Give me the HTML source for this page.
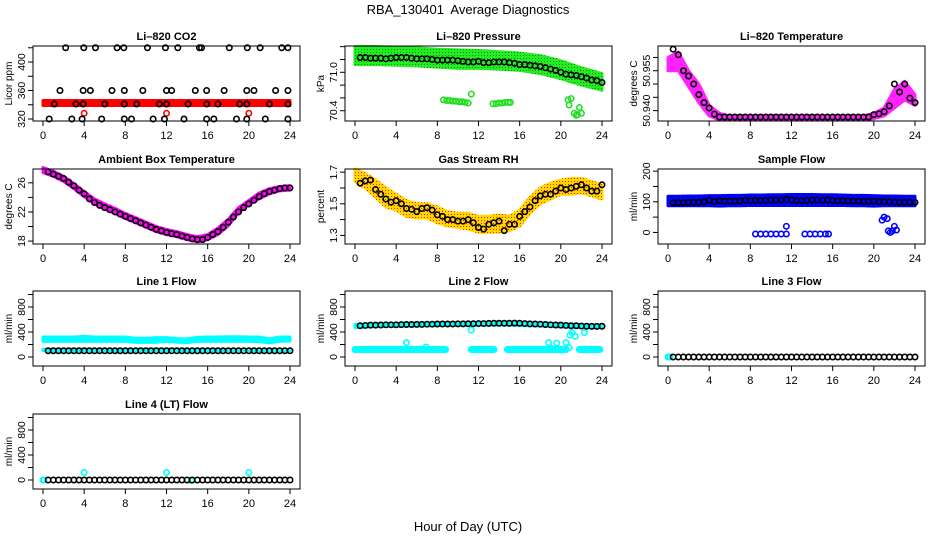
<!DOCTYPE html>
<html><head><meta charset="utf-8">
<style>
html,body{margin:0;padding:0;background:#fff;}
svg{display:block;font-family:"Liberation Sans",Arial,sans-serif;}
</style></head>
<body>
<svg id="chart" width="936" height="540" viewBox="0 0 936 540" xmlns="http://www.w3.org/2000/svg">
<defs>
<pattern id="rhPat" width="3" height="3" patternUnits="userSpaceOnUse"><rect width="3" height="3" fill="#ffd800"/><rect x="1" y="1" width="1" height="1" fill="#ff2000"/></pattern>
<pattern id="grPat" width="3" height="3" patternUnits="userSpaceOnUse"><rect width="3" height="3" fill="#22ee22"/><rect x="1" y="1" width="1" height="1" fill="#118811"/></pattern>
</defs>
<text x="468" y="14" font-size="13" text-anchor="middle" xml:space="preserve">RBA_130401  Average Diagnostics</text>
<text x="468" y="531" font-size="13" text-anchor="middle">Hour of Day (UTC)</text>
</svg>
<script>
// ---------- data ----------
const hours = [0.5,1,1.5,2,2.5,3,3.5,4,4.5,5,5.5,6,6.5,7,7.5,8,8.5,9,9.5,10,10.5,11,11.5,12,12.5,13,13.5,14,14.5,15,15.5,16,16.5,17,17.5,18,18.5,19,19.5,20,20.5,21,21.5,22,22.5,23,23.5,24];
const bandHours = [0,1,2,3,4,5,6,7,8,9,10,11,12,13,14,15,16,17,18,19,20,21,22,23,24];
const xTicks = [0,4,8,12,16,20,24];

// CO2
const co2TopH = [2.2,3.96,5.1,7.2,7.85,10.15,11.9,13.1,15.2,15.4,18.1,19.85,21.1,23.2,23.8];
const co2TopV = [420,420,420,420,420,420,420,420,420,420,420,420,420,420,420];
const co2MidH = [1.65,3.9,4.6,6.7,7.9,9.7,12,12.5,14.8,15.9,17.6,19.8,20.5,22.6,23.8];
const co2MidV = [360,360,360,360,360,360,360,360,360,360,360,360,360,360,360];
const co2LowH = [1.1,3.2,3.9,6.0,7.9,9.1,11.3,12,14.1,15.9,17,19.1,19.8,22,23.8];
const co2LowV = [341,341,341,341,341,341,341,341,341,341,341,341,341,341,341];
const co2BotH = [0.6,2.8,3.8,5.7,7.9,8.6,10.7,11.8,13.7,15.9,16.6,18.8,19.8,21.6,23.8];
const co2BotV = [320,320,320,320,320,320,320,320,320,320,320,320,320,320,320];
const co2BandH = [0,24];
const co2BandLo = [339,339];
const co2BandHi = [346,346];
const co2RedH = [4,12,20];
const co2RedV = [328,328,328];

// Pressure
const pressV = [71.23,71.23,71.22,71.22,71.22,71.21,71.22,71.23,71.23,71.23,71.22,71.21,71.21,71.21,71.20,71.19,71.19,71.19,71.19,71.18,71.17,71.16,71.16,71.17,71.15,71.15,71.16,71.16,71.16,71.15,71.14,71.12,71.12,71.11,71.10,71.09,71.07,71.05,71.03,71.00,70.97,70.96,70.95,70.93,70.91,70.88,70.87,70.84];
const pressBandH = [0,2,4,6,8,10,12,14,16,18,20,22,24];
const pressHi = [71.40,71.40,71.39,71.38,71.36,71.35,71.34,71.32,71.30,71.26,71.18,71.07,70.98];
const pressLo = [71.12,71.12,71.11,71.10,71.08,71.06,71.06,71.05,71.03,70.98,70.90,70.80,70.72];
const pressGreenH = [8.6,8.9,9.2,9.5,9.8,10.1,10.4,10.7,11.0,13.4,13.7,14.0,14.3,14.6,14.9,15.1,11.3,20.7,20.8,21.0,21.3,21.5,21.6,21.8,22.0];
const pressGreenV = [70.57,70.56,70.56,70.55,70.55,70.54,70.54,70.53,70.52,70.51,70.51,70.52,70.52,70.53,70.53,70.53,70.66,70.57,70.49,70.59,70.36,70.33,70.34,70.45,70.36];

// Li-820 temperature
const ltempV = [50.9631,50.961,50.955,50.953,50.950,50.946,50.943,50.941,50.9387,50.9376,50.9376,50.9376,50.9376,50.9376,50.9376,50.9376,50.9376,50.9376,50.9376,50.9376,50.9376,50.9376,50.9376,50.9376,50.9376,50.9376,50.9376,50.9376,50.9376,50.9376,50.9376,50.9376,50.9376,50.9376,50.9376,50.9376,50.9376,50.9376,50.9376,50.9385,50.9388,50.9396,50.9418,50.950,50.947,50.950,50.9447,50.943];
const ltempLo = [50.955,50.955,50.949,50.943,50.938,50.9365,50.9365,50.9365,50.9365,50.9365,50.9365,50.9365,50.9365,50.9365,50.9365,50.9365,50.9365,50.9365,50.9365,50.9365,50.937,50.938,50.941,50.944,50.942];
const ltempHi = [50.960,50.962,50.955,50.950,50.942,50.939,50.938,50.938,50.938,50.938,50.938,50.938,50.938,50.938,50.938,50.938,50.938,50.938,50.938,50.938,50.939,50.941,50.948,50.951,50.946];

// Ambient
const ambV = [27.5,27.2,26.9,26.6,26.1,25.6,25.0,24.5,23.8,23.3,22.9,22.6,22.3,22.0,21.7,21.4,21.1,20.8,20.5,20.2,19.9,19.6,19.4,19.2,19.0,18.9,18.7,18.5,18.3,18.2,18.2,18.5,18.9,19.3,19.9,20.6,21.3,22.0,22.6,23.1,23.6,24.1,24.5,24.8,25.0,25.2,25.3,25.3];
const ambLo = [27.4,26.9,26.2,25.2,24.1,23.1,22.4,21.8,21.1,20.5,19.9,19.3,18.9,18.6,18.2,17.9,18.2,18.9,20.1,21.9,23.0,23.8,24.5,24.9,25.0];
const ambHi = [28.1,27.6,26.9,25.9,24.8,23.8,23.1,22.5,21.8,21.2,20.6,20.0,19.6,19.3,18.9,18.6,18.9,19.8,21.0,22.6,23.6,24.6,25.2,25.5,25.6];

// Gas stream RH
const rhV = [1.63,1.645,1.65,1.59,1.56,1.53,1.51,1.52,1.50,1.47,1.465,1.45,1.47,1.475,1.46,1.43,1.42,1.40,1.40,1.39,1.39,1.40,1.38,1.35,1.34,1.37,1.38,1.39,1.33,1.37,1.37,1.42,1.45,1.48,1.52,1.55,1.56,1.56,1.58,1.60,1.59,1.60,1.61,1.62,1.60,1.58,1.58,1.62];
const rhLo = [1.64,1.60,1.54,1.48,1.46,1.42,1.41,1.41,1.38,1.36,1.35,1.34,1.32,1.32,1.32,1.33,1.36,1.44,1.50,1.53,1.56,1.56,1.57,1.55,1.53];
const rhHi = [1.72,1.69,1.65,1.60,1.56,1.52,1.50,1.50,1.48,1.45,1.44,1.44,1.42,1.42,1.43,1.42,1.46,1.54,1.60,1.63,1.65,1.66,1.66,1.64,1.62];

// Sample flow
const sampV = [97,97,97,98,98,99,100,105,100,103,102,102,102,103,105,104,104,104,105,105,106,106,108,106,104,104,105,106,106,105,106,104,103,103,103,102,102,101,101,102,101,100,100,99,98,98,99,98];
const sampLo = [87,87,87,87,87,86,87,87,88,88,88,88,88,88,88,88,88,88,87,87,86,87,87,87,87];
const sampHi = [118,118,119,119,120,120,121,121,122,122,123,123,124,124,124,123,123,122,121,121,120,119,119,118,118];
const sampBlueH = [8.5,9,9.5,10,10.5,11,11.5,13.3,13.8,14.3,14.8,15.3,15.6,11.5,20.8,21.0,21.3,21.4,21.6,21.8,22.0,22.2];
const sampBlueV = [-5,-5,-5,-5,-5,-5,-5,-5,-5,-5,-5,-5,-5,20,40,50,45,5,0,5,20,8];

// Line 1
const line1V = [100,100,100,100,100,100,100,100,100,100,100,100,100,100,100,100,100,100,100,100,100,100,100,100,100,100,100,100,100,100,100,100,100,100,100,100,100,100,100,100,100,100,100,100,100,100,100,100];
const line1Lo = [250,250,250,250,250,250,250,250,250,235,235,235,250,235,230,250,250,250,250,250,250,245,225,250,255];
const line1Hi = [320,320,320,320,330,320,320,320,320,300,300,310,310,295,290,315,320,320,325,325,320,320,290,320,320];
const line1LowLo = [100,100,100,100,100,100,100,100,100,100,100,100,100,100,100,100,100,100,100,100,100,100,100,100,100];
const line1LowHi = [125,125,125,125,125,125,125,125,125,125,125,125,125,125,125,125,125,125,100,100,100,100,100,100,100];

// Line 2
const line2V = [500,505,510,510,512,515,515,515,518,520,520,522,522,525,525,528,528,528,528,530,530,532,532,535,535,538,540,540,540,540,542,540,535,530,528,525,520,515,512,510,505,500,500,495,492,490,490,492];
const line2Lo = [470,480,485,490,490,495,495,500,500,505,505,505,510,510,510,510,505,500,495,490,480,475,470,470,470];
const line2Hi = [520,525,530,530,535,540,540,545,545,545,550,550,555,555,560,560,555,550,545,540,530,525,520,515,515];
const line2SegStart = [0,11.3,14.8,21.8];
const line2SegEnd = [8.8,13.5,20.5,23.8];
const line2SegV = [120,120,120,120];
const line2OutH = [5,6.9,11.3,18.8,19.6,20.5,20.8,20.9,21.1,21.4,22.3,19,20.1];
const line2OutV = [230,160,430,230,220,230,150,350,390,330,390,150,110];

// Line 3
const line3V = [0,0,0,0,0,0,0,0,0,0,0,0,0,0,0,0,0,0,0,0,0,0,0,0,0,0,0,0,0,0,0,0,0,0,0,0,0,0,0,0,0,0,0,0,0,0,0,0];
const line3CyanH = [0,0.1,0.2];
const line3CyanV = [0,0,0];

// Line 4
const line4V = [0,0,0,0,0,0,0,0,0,0,0,0,0,0,0,0,0,0,0,0,0,0,0,0,0,0,0,0,0,0,0,0,0,0,0,0,0,0,0,0,0,0,0,0,0,0,0,0];
const line4CyanH = [0,0.1,4,12,20,14.4];
const line4CyanV = [0,0,120,120,120,-10];

// ---------- drawing ----------
const NS = "http://www.w3.org/2000/svg";
const svg = document.getElementById("chart");
const COLX = [43,355,668], ROWY = [46,169,291,414], PH = 75, PXH = 247/24;

function el(tag, attrs, parent){
  const e = document.createElementNS(NS, tag);
  for (const k in attrs) e.setAttribute(k, attrs[k]);
  parent.appendChild(e);
  return e;
}

function panel(name, col, row, title, ylab, dMin, dMax, ticks, labels){
  const x0 = COLX[col], top = ROWY[row], bot = top + PH;
  const g = el("g", {}, svg);
  
  
  const sx = h => x0 + h * PXH;
  const sy = v => bot - (v - dMin) / (dMax - dMin) * PH;
  const plot = el("g", {}, g);
  
  
  const t = el("text", {x: x0 + 123.5, y: top - 6, "font-size": 11, "font-weight": "bold", "text-anchor": "middle"}, g);
  t.textContent = title;
  
  
  const yl = el("text", {x: 0, y: 0, "font-size": 10, "text-anchor": "middle", transform: `translate(${x0-31},${top+PH/2}) rotate(-90)`}, g);
  yl.textContent = ylab;
  
  
  // y axis
  const yax = el("g", {stroke: "#000", "stroke-width": 1}, g);
  
  
  const bx = x0 - 10;
  el("line", {x1: bx, x2: bx, y1: sy(ticks[0]), y2: sy(ticks[ticks.length-1])}, yax);
  ticks.forEach(v => {
    const tk = el("line", {x1: bx - 5, x2: bx, y1: sy(v), y2: sy(v)}, yax);
    
    
  });
  labels.forEach(v => {
    const lt = el("text", {x: 0, y: 0, "font-size": 10.5, "text-anchor": "middle", stroke: "none", transform: `translate(${bx-8},${sy(v)}) rotate(-90)`}, yax);
    lt.textContent = String(v);
    
    
  });
  // x axis
  const xax = el("g", {stroke: "#000", "stroke-width": 1}, g);
  
  
  el("line", {x1: sx(xTicks[0]), x2: sx(xTicks[xTicks.length-1]), y1: bot, y2: bot}, xax);
  xTicks.forEach(h => {
    el("line", {x1: sx(h), x2: sx(h), y1: bot, y2: bot + 5}, xax);
    const lt = el("text", {x: sx(h), y: bot + 18, "font-size": 11, "text-anchor": "middle", stroke: "none"}, xax);
    lt.textContent = String(h);
    
    
  });
  return {g: plot, sx, sy, frame: () => {
    const r = el("rect", {x: bx, y: top, width: 267, height: PH, fill: "none", stroke: "#000", "stroke-width": 1}, g);
    
    
  }};
}

function points(P, xs, ys, color, name, r){
  const grp = el("g", {fill: "none", stroke: color, "stroke-width": 1.6}, P.g);
  
  
  xs.forEach((h, i) => {
    const c = el("circle", {cx: P.sx(h), cy: P.sy(ys[i]), r: r || 2.7}, grp);
    
    
  });
}

function band(P, xs, lo, hi, fill, name){
  let d = xs.map((h,i) => `${P.sx(h)},${P.sy(hi[i])}`);
  for (let i = xs.length - 1; i >= 0; i--) d.push(`${P.sx(xs[i])},${P.sy(lo[i])}`);
  const p = el("polygon", {points: d.join(" "), fill: fill, stroke: fill, "stroke-width": 3, "stroke-linejoin": "round"}, P.g);
  
  
}

// CO2
let P = panel("co2-panel", 0, 0, "Li\u2013820 CO2", "Licor ppm", 317.2, 422.5, [320,340,360,380,400,420], [320,360,400]);
band(P, co2BandH, co2BandLo, co2BandHi, "#ff0000", "co2-red-band");
points(P, co2RedH, co2RedV, "#ff0000", "co2-red-outliers");
points(P, co2TopH, co2TopV, "#000", "co2-top-points");
points(P, co2MidH, co2MidV, "#000", "co2-mid-points");
points(P, co2LowH, co2LowV, "#000", "co2-low-points");
points(P, co2BotH, co2BotV, "#000", "co2-bottom-points");
P.frame();

// Pressure
P = panel("pressure-panel", 1, 0, "Li\u2013820 Pressure", "kPa", 70.24, 71.41, [70.4,70.6,70.8,71.0,71.2,71.4], ["70.4","71.0"]);
band(P, pressBandH, pressLo, pressHi, "url(#grPat)", "pressure-green-band");
points(P, pressGreenH, pressGreenV, "#22dd22", "pressure-green-points");
points(P, hours, pressV, "#000", "pressure-mean-points");
P.frame();

// Li temp
P = panel("li-temp-panel", 2, 0, "Li\u2013820 Temperature", "degrees C", 50.9361, 50.9643, [50.940,50.945,50.950,50.955,50.960], ["50.940","50.955"]);
band(P, bandHours, ltempLo, ltempHi, "#ff22ff", "li-temp-magenta-band");
points(P, hours, ltempV, "#000", "li-temp-mean-points");
P.frame();

// Ambient
P = panel("ambient-panel", 0, 1, "Ambient Box Temperature", "degrees C", 17.6, 27.9, [18,20,22,24,26], [18,22,26]);
band(P, bandHours, ambLo, ambHi, "#ff00ff", "ambient-magenta-band");
points(P, hours, ambV, "#000", "ambient-mean-points");
P.frame();

// RH
P = panel("rh-panel", 1, 1, "Gas Stream RH", "percent", 1.2456, 1.72, [1.3,1.4,1.5,1.6,1.7], ["1.3","1.5","1.7"]);
band(P, bandHours, rhLo, rhHi, "url(#rhPat)", "rh-yellow-band");
points(P, hours, rhV, "#000", "rh-mean-points");
P.frame();

// Sample flow
P = panel("sample-flow-panel", 2, 1, "Sample Flow", "ml/min", -37.7, 207, [0,50,100,150,200], [0,100,200]);
band(P, bandHours, sampLo, sampHi, "#0000ff", "sample-flow-blue-band");
points(P, sampBlueH, sampBlueV, "#0000ff", "sample-flow-blue-points");
points(P, hours, sampV, "#000", "sample-flow-mean-points");
P.frame();

const flowTicks = [0,200,400,600,800,1000], flowLabels = [0,400,800];
// Line 1
P = panel("line1-panel", 0, 2, "Line 1 Flow", "ml/min", -144, 1056, flowTicks, flowLabels);
band(P, bandHours, line1Lo, line1Hi, "#00ffff", "line1-cyan-band");
band(P, bandHours, line1LowLo, line1LowHi, "#00ffff", "line1-cyan-low-band");
points(P, hours, line1V, "#000", "line1-mean-points");
P.frame();

// Line 2
P = panel("line2-panel", 1, 2, "Line 2 Flow", "ml/min", -144, 1056, flowTicks, flowLabels);
band(P, bandHours, line2Lo, line2Hi, "#00ffff", "line2-cyan-band");
line2SegStart.forEach((s, i) => {
  const ln = el("line", {x1: P.sx(s), x2: P.sx(line2SegEnd[i]), y1: P.sy(line2SegV[i]), y2: P.sy(line2SegV[i]), stroke: "#00ffff", "stroke-width": 7, "stroke-linecap": "round"}, P.g);
  
  
});
points(P, line2OutH, line2OutV, "#00ffff", "line2-cyan-outliers");
points(P, hours, line2V, "#000", "line2-mean-points");
P.frame();

// Line 3
P = panel("line3-panel", 2, 2, "Line 3 Flow", "ml/min", -144, 1056, flowTicks, flowLabels);
points(P, line3CyanH, line3CyanV, "#00ffff", "line3-cyan-points");
points(P, hours, line3V, "#000", "line3-mean-points");
P.frame();

// Line 4
P = panel("line4-panel", 0, 3, "Line 4 (LT) Flow", "ml/min", -144, 1056, flowTicks, flowLabels);
points(P, line4CyanH, line4CyanV, "#00ffff", "line4-cyan-points");
points(P, hours, line4V, "#000", "line4-mean-points");
P.frame();
</script>
</body></html>
